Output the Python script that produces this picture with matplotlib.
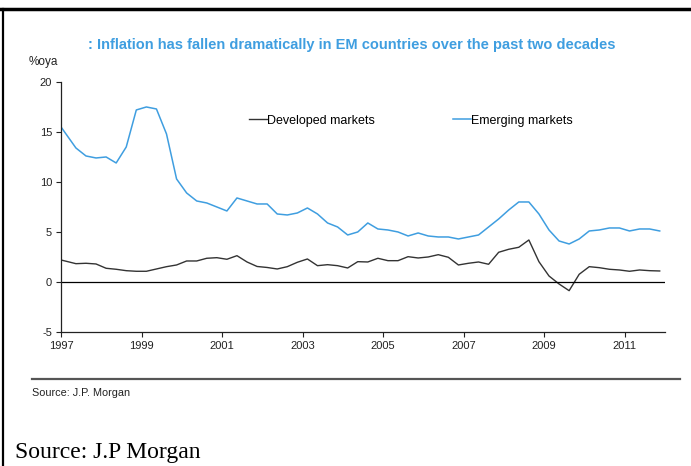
import numpy as np
import matplotlib
matplotlib.use("Agg")
import matplotlib.pyplot as plt
from matplotlib.lines import Line2D

# Quarterly inflation, %oya
developed = [2.2, 1.83, 1.87, 1.8, 1.37, 1.27, 1.13, 1.07, 1.07, 1.3,
             1.53, 1.7, 2.1, 2.1, 2.37, 2.43, 2.27, 2.63, 2.0, 1.55,
             1.45, 1.3, 1.53, 1.97, 2.3, 1.63, 1.73, 1.63, 1.4, 2.03,
             2.0, 2.37, 2.13, 2.13, 2.53, 2.4, 2.5, 2.73, 2.47, 1.7,
             1.87, 2.0, 1.77, 2.97, 3.27, 3.47, 4.2, 2.03, 0.6, -0.2,
             -0.87, 0.77, 1.53, 1.43, 1.27, 1.2, 1.07, 1.2, 1.13, 1.1]
emerging = [15.5, 13.4, 12.6, 12.4, 12.5, 11.9, 13.5, 17.2, 17.5, 17.3,
            14.8, 10.3, 8.9, 8.1, 7.9, 7.5, 7.1, 8.4, 8.1, 7.8,
            7.8, 6.8, 6.7, 6.9, 7.4, 6.8, 5.9, 5.5, 4.7, 5.0,
            5.9, 5.3, 5.2, 5.0, 4.6, 4.9, 4.6, 4.5, 4.5, 4.3,
            4.5, 4.7, 5.5, 6.3, 7.2, 8.0, 8.0, 6.8, 5.2, 4.1,
            3.8, 4.3, 5.1, 5.2, 5.4, 5.4, 5.1, 5.3, 5.3, 5.1]
year_ticks = [1997, 1999, 2001, 2003, 2005, 2007, 2009, 2011]
y_ticks = [-5, 0, 5, 10, 15, 20]

# first observation sits on the axis, the rest are mid-quarter
dates = np.r_[1997.0, 1997.12 + 0.25 * np.arange(1, len(emerging))]

plt.rcParams["axes.unicode_minus"] = False
SANS = ["Liberation Sans", "DejaVu Sans"]
BLUE = "#3f9ee0"
DARK = "#333333"

fig = plt.figure(figsize=(6.91, 4.66), dpi=100)
ax = fig.add_axes([0.0883, 0.2876, 0.874, 0.5365])

ax.plot(dates, developed, color=DARK, lw=1.0)
ax.plot(dates, emerging, color=BLUE, lw=1.1)
ax.axhline(0, color="black", lw=0.9)

ax.set_xlim(1997, 2012)
ax.set_ylim(-5, 20)
ax.set_xticks(year_ticks)
ax.set_yticks(y_ticks)
for s in ["top", "right"]:
    ax.spines[s].set_visible(False)
for s in ["left", "bottom"]:
    ax.spines[s].set_color("#222222")
    ax.spines[s].set_linewidth(0.9)
ax.tick_params(direction="out", length=3.5, width=0.8, colors="#222222",
               labelsize=8, pad=3)
for lab in ax.get_xticklabels() + ax.get_yticklabels():
    lab.set_family(SANS)
    lab.set_color("#222222")

handles = [Line2D([], [], color=DARK, lw=1.0),
           Line2D([], [], color=BLUE, lw=1.1)]
ax.legend(handles, ["Developed markets", "Emerging markets"], ncol=2,
          loc="upper left", bbox_to_anchor=(0.292, 0.914), frameon=False,
          handlelength=1.45, handletextpad=0.05, columnspacing=6.2,
          prop={"family": SANS, "size": 9})

fig.text(0.127, 0.904, ": Inflation has fallen dramatically in EM countries "
         "over the past two decades", color=BLUE, fontsize=10.5,
         fontweight="bold", family=SANS, va="center")
fig.text(0.041, 0.868, "%oya", fontsize=8.5, family=SANS, color="#222222",
         va="center")
fig.text(0.046, 0.157, "Source: J.P. Morgan", fontsize=7.8, family=SANS,
         color="#222222", va="center")
fig.text(0.022, 0.028, "Source: J.P Morgan", fontsize=17,
         family=["Liberation Serif", "DejaVu Serif"], color="black",
         va="center")

# page rules
fig.add_artist(Line2D([0.046, 0.984], [0.187, 0.187], color="#555555",
                      lw=1.6, transform=fig.transFigure))
fig.add_artist(Line2D([0, 1], [0.981, 0.981], color="black", lw=2.5,
                      transform=fig.transFigure))
fig.add_artist(Line2D([0.004, 0.004], [0, 0.981], color="black", lw=1.6,
                      transform=fig.transFigure))

fig.savefig("out.png", dpi=100)
